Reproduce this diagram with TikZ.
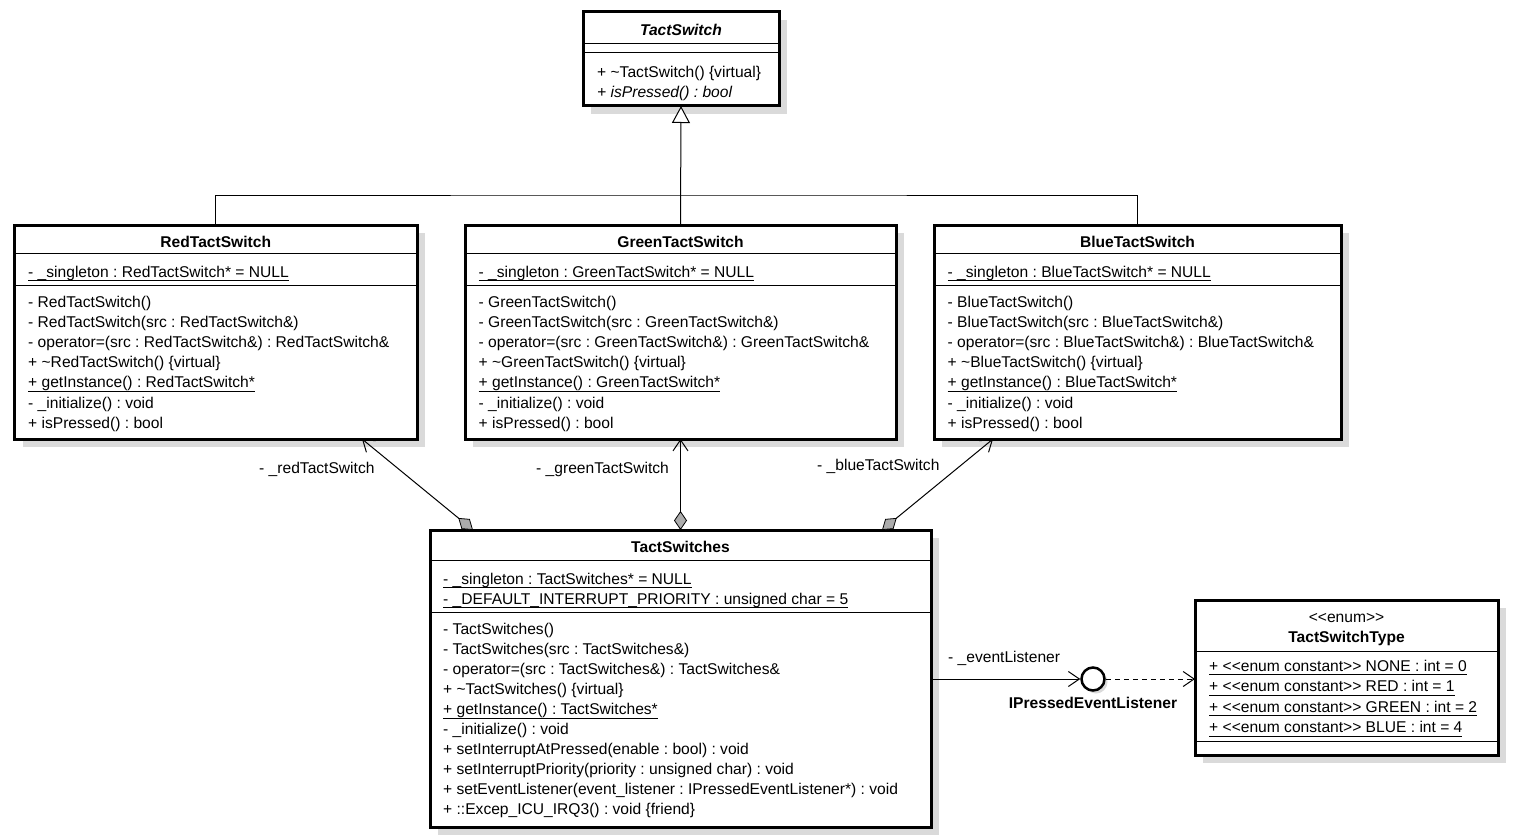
\documentclass[tikz,border=0pt]{standalone}
\usepackage{fontspec}
\setmainfont{Liberation Sans}
\usetikzlibrary{arrows.meta,shadows,calc}
\definecolor{shd}{RGB}{218,218,218}
\newcommand\ulx[1]{\setbox0\hbox{#1}\rlap{\rule[-4.3pt]{\wd0}{0.9pt}}\box0}
\newcommand\stl{\textless\kern0pt\textless}
\newcommand\stg{\textgreater\kern0pt\textgreater}
\newcommand\fs{\fontsize{15.6}{18}\selectfont\frenchspacing}
\newcounter{mln}
\newcommand\mline[3]{\stepcounter{mln}\node[mem] (m\arabic{mln}) at (#1,#2) {#3};}
\tikzset{
  cls/.style={draw, line width=3pt, fill=white, inner sep=0pt, outer sep=0pt, anchor=north west,
    drop shadow={shadow xshift=8pt, shadow yshift=-8pt, fill=shd, opacity=1}},
  div/.style={line width=1pt},
  mem/.style={anchor=base west, inner sep=0pt},
  ttl/.style={anchor=base, inner sep=0pt, font=\fs\bfseries},
  conn/.style={line width=1pt},
  comp/.style={conn, {Diamond[length=19pt,width=13pt,fill=gray!65,line width=0.8pt]}-{Straight Barb[length=11pt,width=15pt,line width=1pt]}},
  gen/.style={conn, -{Triangle[open,length=17pt,width=18pt,fill=white,line width=1pt]}},
  assoc/.style={conn, -{Straight Barb[length=11pt,width=15pt,line width=1pt]}},
  dep/.style={conn, dash pattern=on 5pt off 4pt, -{Straight Barb[length=11pt,width=15pt,line width=1pt]}},
  iface/.style={circle, draw, line width=2.5pt, fill=white, minimum size=23pt, inner sep=0pt,
    drop shadow={shadow xshift=3pt, shadow yshift=-3pt, fill=shd, opacity=1}},
}
\newcommand\swbox[4]{% #1 node, #2 class name, #3 left x, #4 width
  \node[cls, minimum width=#4, minimum height=214] (#1) at (#3,225) {};
  \draw[div] (#3,253) -- ++(#4,0);
  \draw[div] (#3,285) -- ++(#4,0);
  \node[ttl] (#1t) at (#3+#4/2,247) {#2};
  \mline{#3+13.5}{277}{\ulx{- \_singleton : #2* = NULL}}
  \mline{#3+13.5}{307}{- #2()}
  \mline{#3+13.5}{327.2}{- #2(src : #2\&)}
  \mline{#3+13.5}{347.4}{- operator=(src : #2\&) : #2\&}
  \mline{#3+13.5}{367.6}{+ \textasciitilde#2() \{virtual\}}
  \mline{#3+13.5}{387.8}{\ulx{+ getInstance() : #2*}}
  \mline{#3+13.5}{408}{- \_initialize() : void}
  \mline{#3+13.5}{428.2}{+ isPressed() : bool}
}
\begin{document}
\begin{tikzpicture}[x=1pt,y=-1pt,font=\fs]
\useasboundingbox (0,0) rectangle (1513,840);

% TactSwitch (abstract)
\node[cls, minimum width=196, minimum height=94] (tact) at (583,12) {};
\draw[div] (583,44) -- (779,44);
\draw[div] (583,53) -- (779,53);
\node[ttl, font=\fs\bfseries\itshape] (tactt) at (681,36) {TactSwitch};
\mline{597}{78}{+ \textasciitilde TactSwitch() \{virtual\}}
\mline{597}{97.5}{\itshape + isPressed() : bool}

% Concrete switches
\swbox{red}{RedTactSwitch}{14.5}{402.5}
\swbox{green}{GreenTactSwitch}{465}{431}
\swbox{blue}{BlueTactSwitch}{934}{407}

% TactSwitches
\node[cls, minimum width=501, minimum height=297] (ts) at (430,530) {};
\draw[div] (430,560) -- (931,560);
\draw[div] (430,612) -- (931,612);
\node[ttl] (tst) at (680.5,552) {TactSwitches};
\mline{443}{584}{\ulx{- \_singleton : TactSwitches* = NULL}}
\mline{443}{604}{\ulx{- \_DEFAULT\_INTERRUPT\_PRIORITY : unsigned char = 5}}
\mline{443}{634}{- TactSwitches()}
\mline{443}{654.1}{- TactSwitches(src : TactSwitches\&)}
\mline{443}{674.2}{- operator=(src : TactSwitches\&) : TactSwitches\&}
\mline{443}{694.3}{+ \textasciitilde TactSwitches() \{virtual\}}
\mline{443}{714.4}{\ulx{+ getInstance() : TactSwitches*}}
\mline{443}{734.5}{- \_initialize() : void}
\mline{443}{754.6}{+ setInterruptAtPressed(enable : bool) : void}
\mline{443}{774.7}{+ setInterruptPriority(priority : unsigned char) : void}
\mline{443}{794.8}{+ setEventListener(event\_listener : IPressedEventListener*) : void}
\mline{443}{814.9}{+ ::Excep\_ICU\_IRQ3() : void \{friend\}}

% TactSwitchType enum
\node[cls, minimum width=303, minimum height=155] (enum) at (1195,600) {};
\draw[div] (1195,651) -- (1498,651);
\draw[div] (1195,741) -- (1498,741);
\node[anchor=base, inner sep=0pt] (enums) at (1346.5,622) {\stl enum\stg};
\node[ttl] (enumt) at (1346.5,642) {TactSwitchType};
\mline{1209}{671}{\ulx{+ \stl enum constant\stg\ NONE : int = 0}}
\mline{1209}{691.5}{\ulx{+ \stl enum constant\stg\ RED : int = 1}}
\mline{1209}{712}{\ulx{+ \stl enum constant\stg\ GREEN : int = 2}}
\mline{1209}{732.5}{\ulx{+ \stl enum constant\stg\ BLUE : int = 4}}

% Interface lollipop
\node[iface] (ipel) at (1093,679) {};
\node[ttl] (ipelt) at (1093,708) {IPressedEventListener};

% Generalization
\coordinate (bus) at (681,195);
\draw[gen] (green.north) -- (tact.south);
\draw[conn] (red.north) |- (bus) -| (blue.north);

% Compositions
\coordinate (rd) at ($(ts.north west)+(43,0)$);
\coordinate (rt) at ($(red.south west)+(347.5,0)$);
\coordinate (bd) at ($(ts.north west)+(452,0)$);
\coordinate (bt) at ($(blue.south west)+(59,0)$);
\draw[comp] (rd) -- (rt);
\draw[comp] (ts.north -| green.south) -- (green.south);
\draw[comp] (bd) -- (bt);
\node[mem] (lred) at (259,473) {- \_redTactSwitch};
\node[mem] (lgreen) at (536,473) {- \_greenTactSwitch};
\node[mem] (lblue) at (817,470) {- \_blueTactSwitch};

% Event listener
\draw[assoc] (ts.east |- ipel.west) -- (ipel.west);
\node[mem] (lev) at (948,662) {- \_eventListener};
\draw[dep] (ipel.east) -- (enum.west |- ipel.east);
\end{tikzpicture}
\end{document}
